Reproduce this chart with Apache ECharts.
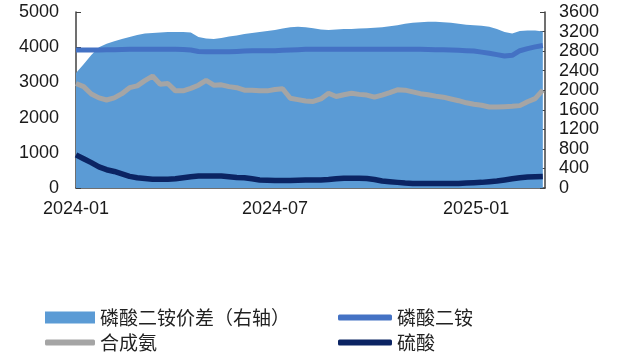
<!DOCTYPE html>
<html>
<head>
<meta charset="utf-8">
<script src="https://cdn.jsdelivr.net/npm/echarts@6/dist/echarts.min.js"></script>
<style>
  html, body { margin: 0; padding: 0; background: #ffffff; }
  #chart { width: 618px; height: 356px; }
</style>
</head>
<body>
<div id="chart"></div>
<script>
// Weekly observations starting 2024-01-01
const startDate = '2024-01-01';
const weekCount = 62;

// 磷酸二铵价差 (right axis, 元/吨)
const dapSpread = [
  2350, 2530, 2720, 2880, 2950, 3000, 3050, 3090, 3130, 3160,
  3170, 3180, 3190, 3190, 3190, 3180, 3090, 3060, 3050, 3070,
  3100, 3120, 3150, 3170, 3190, 3210, 3230, 3260, 3290, 3300,
  3290, 3270, 3240, 3230, 3240, 3250, 3250, 3260, 3270, 3280,
  3290, 3310, 3330, 3360, 3380, 3390, 3400, 3400, 3390, 3380,
  3360, 3340, 3330, 3320, 3300, 3250, 3190, 3160, 3210, 3220,
  3220, 3200
];

// 磷酸二铵 (left axis)
const dapPrice = [
  3920, 3920, 3920, 3920, 3930, 3930, 3935, 3940, 3940, 3940,
  3940, 3940, 3940, 3940, 3935, 3920, 3880, 3870, 3870, 3870,
  3870, 3880, 3890, 3900, 3900, 3900, 3900, 3910, 3920, 3930,
  3940, 3940, 3940, 3940, 3940, 3940, 3940, 3940, 3940, 3940,
  3940, 3940, 3940, 3940, 3940, 3940, 3935, 3930, 3925, 3920,
  3910, 3900, 3890, 3860, 3830, 3790, 3750, 3770, 3900, 3960,
  4010, 4050
];

// 合成氨 (left axis)
const ammonia = [
  2970, 2880, 2670, 2560, 2500, 2560, 2680, 2850, 2900, 3050,
  3180, 2950, 2970, 2760, 2760, 2830, 2920, 3060, 2920, 2930,
  2880, 2850, 2780, 2780, 2760, 2760, 2800, 2820, 2550, 2510,
  2470, 2460, 2530, 2690, 2600, 2650, 2690, 2660, 2640, 2580,
  2640, 2710, 2790, 2780, 2730, 2680, 2650, 2610, 2580, 2530,
  2480, 2420, 2380, 2350, 2300, 2300, 2310, 2320, 2340, 2450,
  2540, 2780
];

// 硫酸 (left axis)
const sulfuricAcid = [
  940, 830, 720, 600, 520, 470, 400, 330, 290, 270,
  250, 250, 250, 260, 290, 320, 340, 340, 340, 340,
  320, 300, 290, 260, 230, 220, 210, 210, 210, 220,
  230, 230, 230, 240, 260, 280, 280, 280, 270, 240,
  200, 180, 160, 140, 130, 130, 130, 130, 130, 130,
  130, 140, 150, 160, 180, 200, 230, 260, 290, 310,
  320, 330
];

// Axis settings
const xLabelDates = ['2024-01-01', '2024-07-01', '2025-01-01'];
const xMin = '2024-01-01';
const xMax = '2025-03-05';
const leftTicks = { min: 0, max: 5000, interval: 1000 };
const rightTicks = { min: 0, max: 3600, interval: 400 };

const seriesNames = ['磷酸二铵价差（右轴）', '磷酸二铵', '合成氨', '硫酸'];
const colors = ['#5b9bd5', '#4472c4', '#a5a5a5', '#0b2463'];

const DAY = 86400000;
const toTs = s => Date.parse(s + 'T00:00:00Z');
const t0 = toTs(startDate);
const dates = [];
for (let i = 0; i < weekCount; i++) dates.push(t0 + i * 7 * DAY);
const pair = arr => arr.map((v, i) => [dates[i], v]);

const fmtYM = v => {
  const d = new Date(v);
  const m = d.getUTCMonth() + 1;
  return d.getUTCFullYear() + '-' + (m < 10 ? '0' + m : m);
};
const plain = v => String(v);

const axisColor = '#404040';
const labelFont = { color: '#1a1a1a', fontSize: 18, fontFamily: 'Liberation Sans, Arial, sans-serif' };
const legendFont = { color: '#222222', fontSize: 19, fontFamily: 'Noto Sans CJK SC, sans-serif' };

const chart = echarts.init(document.getElementById('chart'), null, { renderer: 'canvas' });

function legendAt(name, left, top, icon, w, h) {
  return {
    left: left, top: top,
    orient: 'horizontal',
    itemWidth: w, itemHeight: h, itemGap: 0,
    icon: icon,
    textStyle: legendFont,
    data: [{ name: name }]
  };
}

// Dates are placed on a continuous value axis (timestamps) so that
// only the chosen month labels are shown.
chart.setOption({
  animation: false,
  backgroundColor: '#ffffff',
  grid: { left: 76, right: 73, top: 12, bottom: 168 },
  legend: [
    legendAt(seriesNames[0], 40, 303, 'rect', 50, 12),
    legendAt(seriesNames[1], 333, 303, 'roundRect', 54, 6),
    legendAt(seriesNames[2], 40, 328, 'roundRect', 50, 6),
    legendAt(seriesNames[3], 333, 328, 'roundRect', 54, 6)
  ],
  xAxis: {
    type: 'value',
    min: toTs(xMin),
    max: toTs(xMax),
    axisLine: { show: true, lineStyle: { color: axisColor, width: 1.5 } },
    axisTick: { show: true, inside: true, length: 5, customValues: xLabelDates.map(toTs), lineStyle: { color: axisColor } },
    axisLabel: Object.assign({ customValues: xLabelDates.map(toTs), formatter: fmtYM, margin: 12 }, labelFont),
    splitLine: { show: false }
  },
  yAxis: [
    {
      type: 'value', position: 'left',
      min: leftTicks.min, max: leftTicks.max, interval: leftTicks.interval,
      axisLine: { show: true, lineStyle: { color: axisColor, width: 1.5 } },
      axisTick: { show: true, inside: true, length: 5, lineStyle: { color: axisColor } },
      axisLabel: Object.assign({ margin: 17, formatter: plain }, labelFont),
      splitLine: { show: false }
    },
    {
      type: 'value', position: 'right',
      min: rightTicks.min, max: rightTicks.max, interval: rightTicks.interval,
      axisLine: { show: true, lineStyle: { color: axisColor, width: 1.5 } },
      axisTick: { show: true, inside: true, length: 5, lineStyle: { color: axisColor } },
      axisLabel: Object.assign({ margin: 14, formatter: plain }, labelFont),
      splitLine: { show: false }
    }
  ],
  series: [
    {
      name: seriesNames[0], type: 'line', yAxisIndex: 1,
      data: pair(dapSpread), showSymbol: false, z: 1,
      itemStyle: { color: colors[0] },
      lineStyle: { width: 0 },
      areaStyle: { color: colors[0], opacity: 1 }
    },
    {
      name: seriesNames[1], type: 'line', yAxisIndex: 0,
      data: pair(dapPrice), showSymbol: false, z: 3,
      itemStyle: { color: colors[1] },
      lineStyle: { width: 5, color: colors[1] }
    },
    {
      name: seriesNames[2], type: 'line', yAxisIndex: 0,
      data: pair(ammonia), showSymbol: false, z: 3,
      itemStyle: { color: colors[2] },
      lineStyle: { width: 5, color: colors[2] }
    },
    {
      name: seriesNames[3], type: 'line', yAxisIndex: 0,
      data: pair(sulfuricAcid), showSymbol: false, z: 3,
      itemStyle: { color: colors[3] },
      lineStyle: { width: 5.5, color: colors[3] }
    }
  ]
});
</script>
</body>
</html>
